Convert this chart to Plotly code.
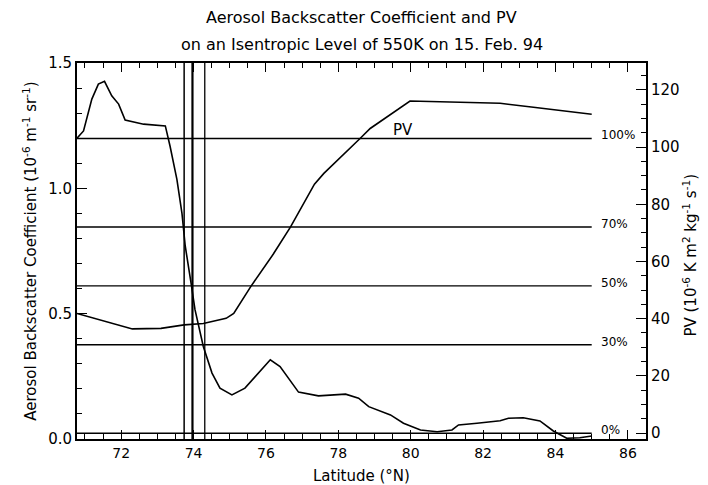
import plotly.graph_objects as go

# Aerosol backscatter coefficient (left axis, 10^-6 m^-1 sr^-1)
aer_lat = [70.78, 70.96, 71.19, 71.37, 71.54, 71.74, 71.93, 72.11, 72.62, 73.22, 73.35, 73.54,
           73.68, 73.77, 73.93, 74.04, 74.27, 74.51, 74.73, 75.06, 75.42, 75.75, 76.12, 76.39,
           76.90, 77.45, 78.20, 78.56, 78.84, 79.44, 79.80, 80.27, 80.73, 81.14, 81.32, 81.83,
           82.47, 82.70, 83.11, 83.57, 83.94, 84.31, 84.67, 85.0]
aer_val = [1.20, 1.229, 1.356, 1.416, 1.427, 1.369, 1.336, 1.272, 1.256, 1.249, 1.169, 1.036,
           0.900, 0.770, 0.623, 0.516, 0.369, 0.263, 0.203, 0.176, 0.203, 0.256, 0.316, 0.289,
           0.187, 0.172, 0.179, 0.163, 0.129, 0.096, 0.063, 0.036, 0.029, 0.036, 0.056, 0.063,
           0.073, 0.083, 0.085, 0.072, 0.032, 0.003, 0.005, 0.012]

# Potential vorticity (right axis, 10^-6 K m^2 kg^-1 s^-1)
pv_lat = [70.78, 71.25, 72.31, 73.10, 73.74, 74.27, 74.90, 75.11, 75.58, 76.20, 76.68, 77.34,
          77.60, 78.60, 78.88, 79.98, 80.81, 82.47, 83.39, 84.13, 85.0]
pv_val = [41.8, 40.1, 36.4, 36.6, 37.8, 38.3, 40.1, 41.8, 51.2, 62.5, 72.1, 87.0,
          90.8, 103.0, 106.5, 116.1, 115.8, 115.3, 113.9, 112.9, 111.5]

# Reference levels (percent of aerosol range, on the left axis)
level_names = ["0%", "30%", "50%", "70%", "100%"]
level_vals = [0.023, 0.376, 0.611, 0.846, 1.199]
level_lat_end = 85.0

# Vertical markers (latitude)
vlines = [73.74, 73.97, 74.31]
vline_widths = [1.5, 2.2, 1.3]

FONT = "DejaVu Sans"
fig = go.Figure()

fig.add_trace(go.Scatter(x=aer_lat, y=aer_val, mode="lines",
                         line=dict(color="black", width=1.6), yaxis="y", showlegend=False))
fig.add_trace(go.Scatter(x=pv_lat, y=pv_val, mode="lines",
                         line=dict(color="black", width=1.6), yaxis="y2", showlegend=False))

xmin = 70.78
for name, v in zip(level_names, level_vals):
    fig.add_trace(go.Scatter(x=[xmin, level_lat_end], y=[v, v], mode="lines",
                             line=dict(color="black", width=1.4), yaxis="y", showlegend=False))
    fig.add_annotation(x=level_lat_end, y=v, xref="x", yref="y", text=name,
                       showarrow=False, xanchor="left", yanchor="middle", xshift=7, yshift=3,
                       font=dict(family=FONT, size=12, color="black"))

for lx, w in zip(vlines, vline_widths):
    fig.add_shape(type="line", x0=lx, x1=lx, y0=0, y1=1, xref="x", yref="paper",
                  line=dict(color="black", width=w))

fig.add_annotation(x=79.78, y=106, xref="x", yref="y2", text="PV", showarrow=False,
                   yanchor="middle", font=dict(family=FONT, size=15, color="black"))

fig.add_annotation(x=0.5, y=1.12, xref="paper", yref="paper", showarrow=False, yanchor="middle",
                   text="Aerosol Backscatter Coefficient and PV",
                   font=dict(family=FONT, size=16, color="black"))
fig.add_annotation(x=0.5, y=1.048, xref="paper", yref="paper", showarrow=False, yanchor="middle",
                   text="on an Isentropic Level of 550K on 15. Feb. 94",
                   font=dict(family=FONT, size=16, color="black"))

fig.add_annotation(x=-0.083, y=0.5, xref="paper", yref="paper", showarrow=False, textangle=-90,
                   xanchor="center", yanchor="middle",
                   text="Aerosol Backscatter Coefficient (10<sup>-6</sup> m<sup>-1</sup> sr<sup>-1</sup>)",
                   font=dict(family=FONT, size=15, color="black"))
fig.add_annotation(x=1.077, y=0.49, xref="paper", yref="paper", showarrow=False, textangle=-90,
                   xanchor="center", yanchor="middle",
                   text="PV (10<sup>-6</sup> K m<sup>2</sup> kg<sup>-1</sup> s<sup>-1</sup>)",
                   font=dict(family=FONT, size=15, color="black"))
fig.add_annotation(x=0.5, y=-0.098, xref="paper", yref="paper", showarrow=False, yanchor="middle",
                   text="Latitude (°N)", font=dict(family=FONT, size=15, color="black"))

fig.update_layout(
    width=708, height=485,
    margin=dict(l=77, r=62, t=63, b=46),
    paper_bgcolor="white", plot_bgcolor="white",
    font=dict(family=FONT, size=15, color="black"),
    xaxis=dict(range=[xmin, 86.5], tickvals=[72, 74, 76, 78, 80, 82, 84, 86],
               ticks="inside", ticklen=9, tickwidth=1.3, tickcolor="black",
               minor=dict(dtick=0.5, ticks="inside", ticklen=5, tickcolor="black"),
               showline=True, linecolor="black", linewidth=2, mirror="ticks",
               showgrid=False, zeroline=False, tickfont=dict(size=14)),
    yaxis=dict(range=[0, 1.5], tickvals=[0, 0.5, 1.0, 1.5], tickformat=".1f",
               ticks="inside", ticklen=10, tickwidth=1.3, tickcolor="black",
               minor=dict(dtick=0.1, ticks="inside", ticklen=5, tickcolor="black"),
               showline=True, linecolor="black", linewidth=2,
               showgrid=False, zeroline=False, tickfont=dict(size=15)),
    yaxis2=dict(range=[-2.1, 129.4], overlaying="y", side="right",
                tickvals=[0, 20, 40, 60, 80, 100, 120],
                ticks="inside", ticklen=10, tickwidth=1.3, tickcolor="black",
                minor=dict(dtick=5, ticks="inside", ticklen=5, tickcolor="black"),
                showline=True, linecolor="black", linewidth=2,
                showgrid=False, zeroline=False, tickfont=dict(size=15)),
)

fig.write_html("out.html")
